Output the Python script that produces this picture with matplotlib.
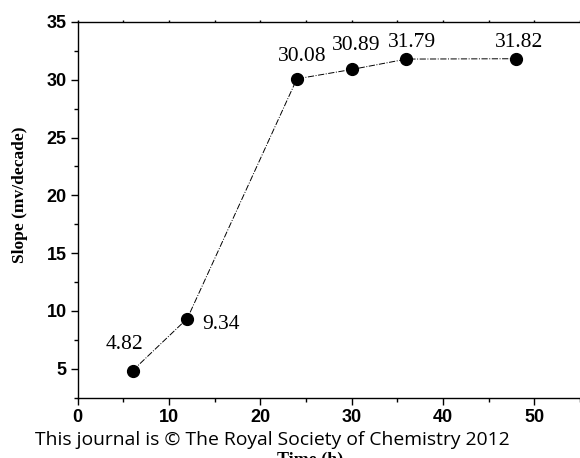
import matplotlib.pyplot as plt
from matplotlib.ticker import MultipleLocator

# Slope vs. soaking time
time_h = [6, 12, 24, 30, 36, 48]
slope = [4.82, 9.34, 30.08, 30.89, 31.79, 31.82]
labels = ["4.82", "9.34", "30.08", "30.89", "31.79", "31.82"]
# label offsets in points relative to each point
offsets = [(-6, 19), (24, -4), (4, 16), (3, 17), (4, 12), (2, 12)]

fig = plt.figure(figsize=(5.8, 4.58), dpi=100)
ax = fig.add_axes([0.134, 0.132, 0.866, 0.820])

ax.plot(time_h, slope, color="black", linestyle="-.", linewidth=0.7,
        marker="o", markersize=8.5, markerfacecolor="black",
        markeredgecolor="black")

for x, y, lab, (dx, dy) in zip(time_h, slope, labels, offsets):
    ax.annotate(lab, (x, y), xytext=(dx, dy), textcoords="offset points",
                ha="center", va="center", fontsize=15.5,
                family="Liberation Serif")

ax.set_xlim(0, 55)
ax.set_ylim(2.5, 35)
ax.xaxis.set_major_locator(MultipleLocator(10))
ax.xaxis.set_minor_locator(MultipleLocator(5))
ax.yaxis.set_major_locator(MultipleLocator(5))
ax.yaxis.set_minor_locator(MultipleLocator(2.5))

ax.spines["right"].set_visible(False)
for s in ["left", "bottom", "top"]:
    ax.spines[s].set_linewidth(1.0)

ax.tick_params(axis="both", which="major", direction="out", length=5,
               width=1.0, pad=3)
ax.tick_params(axis="both", which="minor", direction="out", length=3,
               width=1.0)
ax.tick_params(axis="x", which="both", top=True, bottom=True, labeltop=False)
for t in ax.xaxis.get_major_ticks() + ax.xaxis.get_minor_ticks():
    t.tick2line.set_markersize(1.5)

for lab in ax.get_xticklabels() + ax.get_yticklabels():
    lab.set_family("Liberation Sans")
    lab.set_fontweight("bold")
    lab.set_fontsize(13)

ax.set_ylabel("Slope (mv/decade)", family="Liberation Serif",
              fontweight="bold", fontsize=12.5)
ax.yaxis.set_label_coords(-0.099, 0.54)

fig.text(0.534, 0.013, "Time (h)", family="Liberation Serif",
         fontweight="bold", fontsize=13, ha="center", va="top")
fig.text(0.06, 0.028, "This journal is \u00a9 The Royal Society of Chemistry 2012",
         family="Open Sans", fontsize=13.85, ha="left", va="baseline")

fig.savefig("out.png", dpi=100)
